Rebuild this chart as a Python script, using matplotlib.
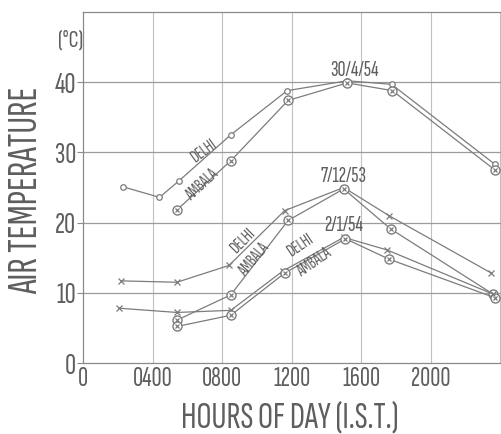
import matplotlib
matplotlib.use("Agg")
import matplotlib.pyplot as plt

plt.rcParams['font.family'] = ['Sofia Sans Extra Condensed', 'DejaVu Sans']

# ---- data ----
hours_delhi_apr = [2.3, 4.4, 5.5, 8.5, 11.75, 15.2, 17.75, 23.7]
temp_delhi_apr = [25.1, 23.6, 25.9, 32.5, 38.8, 40.2, 39.7, 28.3]
hours_ambala_apr = [5.4, 8.5, 11.8, 15.2, 17.8, 23.7]
temp_ambala_apr = [21.8, 28.8, 37.4, 39.9, 38.8, 27.5]

hours_delhi_dec = [2.2, 5.4, 8.4, 11.6, 15.0, 17.6, 23.5]
temp_delhi_dec = [11.7, 11.5, 13.9, 21.7, 25.0, 21.0, 12.8]
hours_ambala_dec = [5.4, 8.5, 11.8, 15.0, 17.7, 23.6]
temp_ambala_dec = [6.1, 9.7, 20.3, 24.8, 19.1, 9.8]

hours_delhi_jan = [2.1, 5.4, 8.5, 11.5, 15.0, 17.5, 23.6]
temp_delhi_jan = [7.8, 7.2, 7.5, 13.1, 17.9, 16.1, 9.8]
hours_ambala_jan = [5.4, 8.5, 11.6, 15.1, 17.6, 23.7]
temp_ambala_jan = [5.2, 6.8, 12.8, 17.7, 14.8, 9.3]

x_ticks = [0, 4, 8, 12, 16, 20]
x_ticklabels = ['0', '0400', '0800', '1200', '1600', '2000']
y_ticks = [0, 10, 20, 30, 40]
y_ticklabels = ['0', '10', '20', '30', '40']

ink = '#7c7c7c'
txt = '#5e5e5e'
grid_c = '#c0c0c0'

fig = plt.figure(figsize=(5.01, 4.34), dpi=100)
ax = fig.add_axes([83/501, 71/434, 1 - 83/501, (363 - 12)/434])
ax.set_xlim(0, 24.05)
ax.set_ylim(0, 50)

# grid
for v in [4, 8, 12, 16, 20, 24]:
    ax.axvline(v, color=grid_c, lw=0.8, zorder=0)
for v in [10, 20, 30, 40]:
    ax.axhline(v, color='#9c9c9c', lw=0.9, zorder=0)

for s in ['left', 'bottom', 'top']:
    ax.spines[s].set_color('#8a8a8a')
    ax.spines[s].set_linewidth(0.9)
ax.spines['right'].set_visible(False)

ax.set_xticks(x_ticks)
ax.set_xticklabels(x_ticklabels)
ax.set_yticks(y_ticks)
ax.set_yticklabels(y_ticklabels)
ax.tick_params(axis='x', length=0, pad=3, labelsize=20, labelcolor=txt)
ax.tick_params(axis='y', length=4, width=0.8, color='#8a8a8a', pad=1,
               labelsize=22, labelcolor=txt)
for lab in ax.get_xticklabels() + ax.get_yticklabels():
    lab.set_fontweight('light')

lw = 0.9


def ambala(hours, temps):
    ax.plot(hours, temps, color=ink, lw=lw, marker='o', ms=6.5,
            mfc='white', mec=ink, mew=1.0, zorder=3)
    ax.plot(hours, temps, ls='none', marker='x', ms=3.5, mec=ink, mew=0.9,
            zorder=4)


# 30/4/54
ax.plot(hours_delhi_apr, temp_delhi_apr, color=ink, lw=lw, marker='o', ms=4,
        mfc='white', mec=ink, mew=0.9, zorder=3)
ambala(hours_ambala_apr, temp_ambala_apr)
# 7/12/53
ax.plot(hours_delhi_dec, temp_delhi_dec, color=ink, lw=lw, marker='x', ms=4,
        mec=ink, mew=0.9, zorder=3)
ambala(hours_ambala_dec, temp_ambala_dec)
# 2/1/54
ax.plot(hours_delhi_jan, temp_delhi_jan, color=ink, lw=lw, marker='x', ms=4,
        mec=ink, mew=0.9, zorder=3)
ambala(hours_ambala_jan, temp_ambala_jan)

# annotations
ann_kw = dict(fontsize=16, color=txt, ha='center', va='center', fontweight='light')
ax.text(15.6, 41.6, '30/4/54', **ann_kw)
ax.text(15.0, 26.5, '7/12/53', **ann_kw)
ax.text(15.0, 19.6, '2/1/54', **ann_kw)

lab_kw = dict(fontsize=12.5, color=txt, ha='center', va='center', fontweight='bold')
ax.text(6.95, 30.2, 'DELHI', rotation=36, **lab_kw)
ax.text(6.85, 25.4, 'AMBALA', rotation=43, **lab_kw)
ax.text(9.2, 17.4, 'DELHI', rotation=45, **lab_kw)
ax.text(9.85, 14.7, 'AMBALA', rotation=50, **lab_kw)
ax.text(12.5, 16.8, 'DELHI', rotation=34, **lab_kw)
ax.text(13.3, 14.3, 'AMBALA', rotation=35, **lab_kw)

fig.text(27/501, 1 - 190/434, 'AIR TEMPERATURE', rotation=90, fontsize=30,
         color=txt, ha='center', va='center', fontweight='light')
fig.text(290/501, 1 - 418/434, 'HOURS OF DAY (I.S.T.)', fontsize=27,
         color=txt, ha='center', va='center', fontweight='light')
fig.text(71/501, 1 - 40/434, '(°C)', fontsize=18, color=txt, ha='center',
         va='center', fontweight='light')

fig.savefig('out.png', dpi=100)
